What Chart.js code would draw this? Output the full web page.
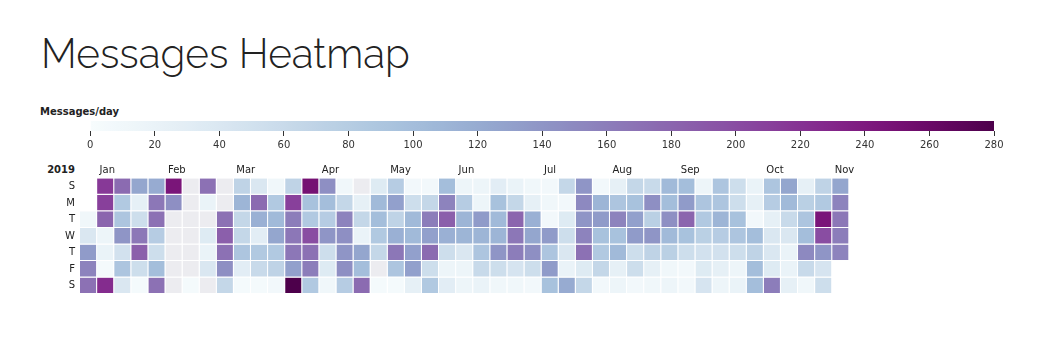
<!DOCTYPE html>
<html>
<head>
<meta charset="utf-8">
<script src="https://cdn.jsdelivr.net/npm/chart.js@4.4.1/dist/chart.umd.min.js"></script>
<style>
  html, body { margin: 0; padding: 0; background: #fff; }
  body { width: 1045px; height: 339px; overflow: hidden; position: relative; font-family: "DejaVu Sans", sans-serif; }
  #title { position: absolute; left: 41px; top: 34px; margin: 0; font-family: "Raleway", "Lato", "Open Sans", sans-serif; font-weight: 300; font-size: 40.5px; line-height: 40.5px; color: #222; white-space: nowrap; }
  #cbtitle { position: absolute; left: 40px; top: 106px; font-weight: bold; font-size: 10px; line-height: 12px; color: #222; }
  #year { position: absolute; left: 0; width: 75px; text-align: right; top: 164px; font-weight: bold; font-size: 10px; line-height: 12px; color: #222; }
  #cb { position: absolute; left: 0; top: 100px; }
  #hm { position: absolute; left: 0; top: 150px; }
</style>
</head>
<body>
<h1 id="title">Messages Heatmap</h1>
<div id="cbtitle">Messages/day</div>
<div id="year">2019</div>
<canvas id="cb" width="1045" height="50"></canvas>
<canvas id="hm" width="1045" height="155"></canvas>
<script>
// ---------------- data ----------------
const year = 2019;
const dayLabels = ['S', 'M', 'T', 'W', 'T', 'F', 'S'];
const monthNames = ['Jan', 'Feb', 'Mar', 'Apr', 'May', 'Jun', 'Jul', 'Aug', 'Sep', 'Oct', 'Nov'];
const colorbarTicks = [0, 20, 40, 60, 80, 100, 120, 140, 160, 180, 200, 220, 240, 260, 280];

// messages per day (null = no data recorded)
const jan = [10, 40, 135, 155, 170, 215, 210, 180, 15, 20, 5, 225, 175, 85, 90, 140, 50, 90, 40, 125, 25, 55, 165, 185, 55, 5, 120, 165, 170, 80, 55];
const feb = [100, 170, 245, 145, null, null, null, null, null, null, null, null, null, null, null, 5, 170, 20, null, 35, 20, 40, null, null, null, 170, 185, 170];
const mar = [145, 65, 70, 110, 65, 65, 90, 30, 5, 40, 175, 115, 30, 85, 60, 5, 10, 85, 105, 125, 85, 70, 8, 70, 210, 160, 165, 165, 130, 280, 250];
const apr = [95, 85, 200, 170, 160, 85, 145, 100, 80, 140, 55, 35, 10, 10, 65, 155, 145, 140, 145, 80, null, 25, 65, 20, 125, 100, 175, 35, 105, 100];
const may = [85, 65, null, 5, 80, 130, 70, 115, 165, 90, 5, 8, 55, 105, 105, 130, 130, 25, 8, 65, 160, 130, 175, 55, 85, 100, 155, 185, 115, 55, 15];
const jun = [30, 15, 80, 110, 110, 40, 15, 15, 15, 15, 135, 110, 90, 60, 20, 30, 95, 105, 110, 140, 55, 10, 20, 65, 180, 165, 160, 45, 10, 10];
const jul = [25, 115, 125, 145, 55, 8, 8, 10, 8, 135, 90, 135, 95, 65, 8, 35, 55, 40, 20, 120, 140, 150, 140, 155, 170, 35, 65, 8, 110, 135, 95];
const aug = [85, 65, 8, 25, 90, 155, 95, 105, 25, 15, 65, 95, 130, 135, 55, 55, 8, 60, 145, 75, 140, 70, 25, 10, 105, 100, 145, 105, 75, 10, 15];
const sep = [100, 135, 180, 95, 55, 8, 8, 15, 90, 85, 75, 50, 35, 45, 90, 90, 110, 80, 50, 25, 15, 55, 55, 95, 90, 55, 15, 20, 20, 25];
const oct = [8, 100, 70, 100, 100, 90, 80, 25, 40, 40, 35, 160, 125, 105, 60, 40, 20, 20, 25, 25, 75, 90, 100, 150, 60, 10, 70, 85, 245, 200, 140];
const nov = [45, 55, 125, 155, 165, 160, 155];

// ---------------- colour scale (BuPu) ----------------
const bupuHex = ['f7fcfd', 'e0ecf4', 'bfd3e6', '9ebcda', '8c96c6', '8c6bb1', '88419d', '810f7c', '4d004b'];
const missingColor = '#ececf0';
const bupuRgb = bupuHex.map(h => [parseInt(h.slice(0, 2), 16), parseInt(h.slice(2, 4), 16), parseInt(h.slice(4, 6), 16)]);
function basis(t1, v0, v1, v2, v3) {
  const t2 = t1 * t1, t3 = t2 * t1;
  return ((1 - 3 * t1 + 3 * t2 - t3) * v0 + (4 - 6 * t2 + 3 * t3) * v1 + (1 + 3 * t1 + 3 * t2 - 3 * t3) * v2 + t3 * v3) / 6;
}
function basisChannel(values, t) {
  const n = values.length - 1;
  let i;
  if (t <= 0) { t = 0; i = 0; } else if (t >= 1) { t = 1; i = n - 1; } else { i = Math.floor(t * n); }
  const v1 = values[i], v2 = values[i + 1];
  const v0 = i > 0 ? values[i - 1] : 2 * v1 - v2;
  const v3 = i < n - 1 ? values[i + 2] : 2 * v2 - v1;
  return basis((t - i / n) * n, v0, v1, v2, v3);
}
function bupu(t) {
  const ch = [0, 1, 2].map(k => Math.max(0, Math.min(255, Math.round(basisChannel(bupuRgb.map(c => c[k]), t)))));
  return `rgb(${ch[0]},${ch[1]},${ch[2]})`;
}
const vMin = colorbarTicks[0], vMax = colorbarTicks[colorbarTicks.length - 1];
const colorFor = v => v == null ? missingColor : bupu((v - vMin) / (vMax - vMin));

// ---------------- build week grid from dates ----------------
const months = [jan, feb, mar, apr, may, jun, jul, aug, sep, oct, nov];
const startDow = new Date(Date.UTC(year, 0, 1)).getUTCDay();
const cells = [];
const monthStartCol = {};
let dayIndex = 0;
months.forEach((arr, m) => {
  arr.forEach(v => {
    const idx = dayIndex + startDow;
    const col = Math.floor(idx / 7), row = idx % 7;
    if (row === 0 && !(m in monthStartCol)) monthStartCol[m] = col;
    cells.push({ col, row, value: v });
    dayIndex++;
  });
});
const nWeeks = Math.max(...cells.map(c => c.col)) + 1;
const weekLabels = Array.from({ length: nWeeks }, (_, i) => String(i));
const colMonthLabel = {};
Object.keys(monthStartCol).forEach(m => { colMonthLabel[monthStartCol[m]] = monthNames[m]; });

const datasets = dayLabels.map((lab, r) => {
  const data = new Array(nWeeks).fill(null);
  const colors = new Array(nWeeks).fill('rgba(0,0,0,0)');
  cells.filter(c => c.row === r).forEach(c => {
    data[c.col] = [r, r + 1];
    colors[c.col] = colorFor(c.value);
  });
  return {
    label: lab,
    data,
    backgroundColor: colors,
    borderColor: '#ffffff',
    borderWidth: { top: 0, left: 0, right: 1, bottom: 1 },
    borderSkipped: false,
    inflateAmount: 0,
    grouped: false,
    categoryPercentage: 1,
    barPercentage: 1
  };
});

// ---------------- layout constants ----------------
const W = 1045;
const gridLeft = 80, gridRight = 849.3, gridTop = 178.3, gridBottom = 297.3;
const hmTop = 150, hmHeight = 155;
const cellW = (gridRight - gridLeft) / nWeeks;
const textColor = '#222';
const smallFont = { family: '"DejaVu Sans", sans-serif', size: 10 };

// ---------------- colour bar ----------------
new Chart(document.getElementById('cb'), {
  type: 'bar',
  data: {
    labels: [''],
    datasets: [{
      data: [[vMin, vMax]],
      backgroundColor: (ctx) => {
        const area = ctx.chart.chartArea;
        if (!area) return null;
        const g = ctx.chart.ctx.createLinearGradient(area.left, 0, area.right, 0);
        for (let i = 0; i <= 100; i++) g.addColorStop(i / 100, bupu(i / 100));
        return g;
      },
      borderWidth: 0,
      inflateAmount: 0,
      categoryPercentage: 1,
      barPercentage: 1
    }]
  },
  options: {
    indexAxis: 'y',
    responsive: false,
    animation: false,
    devicePixelRatio: 1,
    layout: { padding: { left: 90.3, right: W - 994, top: 21, bottom: 0 } },
    plugins: { legend: { display: false }, tooltip: { enabled: false } },
    scales: {
      x: {
        type: 'linear', min: vMin, max: vMax,
        afterBuildTicks: s => { s.ticks = colorbarTicks.map(v => ({ value: v })); },
        afterFit: s => { s.height = 19; },
        ticks: { font: smallFont, color: '#333', padding: 3, maxRotation: 0, autoSkip: false },
        grid: { drawOnChartArea: false, drawTicks: true, tickLength: 5, color: '#333', lineWidth: 1 },
        border: { display: false }
      },
      y: { display: false }
    }
  }
});

// ---------------- heatmap ----------------
new Chart(document.getElementById('hm'), {
  type: 'bar',
  data: { labels: weekLabels, datasets },
  options: {
    responsive: false,
    animation: false,
    devicePixelRatio: 1,
    layout: { padding: { left: 0, right: W - gridRight, top: 0, bottom: hmTop + hmHeight - gridBottom } },
    plugins: { legend: { display: false }, tooltip: { enabled: false } },
    scales: {
      x: {
        type: 'category', position: 'top', offset: true,
        afterFit: s => { s.height = gridTop - hmTop; },
        grid: { display: false, drawTicks: false },
        border: { display: false },
        ticks: {
          autoSkip: false, maxRotation: 0, minRotation: 0, align: 'start',
          labelOffset: -cellW / 2 + 2.5, padding: 2,
          font: smallFont, color: textColor,
          callback: (v, i) => colMonthLabel[i] || ''
        }
      },
      y: {
        type: 'linear', min: 0, max: dayLabels.length, reverse: true,
        afterBuildTicks: s => { s.ticks = dayLabels.map((_, i) => ({ value: i + 0.5 })); },
        afterFit: s => { s.width = gridLeft; },
        grid: { display: false, drawTicks: false },
        border: { display: false },
        ticks: { padding: 5, font: smallFont, color: textColor, callback: v => dayLabels[Math.floor(v)] }
      }
    }
  }
});
</script>
</body>
</html>
